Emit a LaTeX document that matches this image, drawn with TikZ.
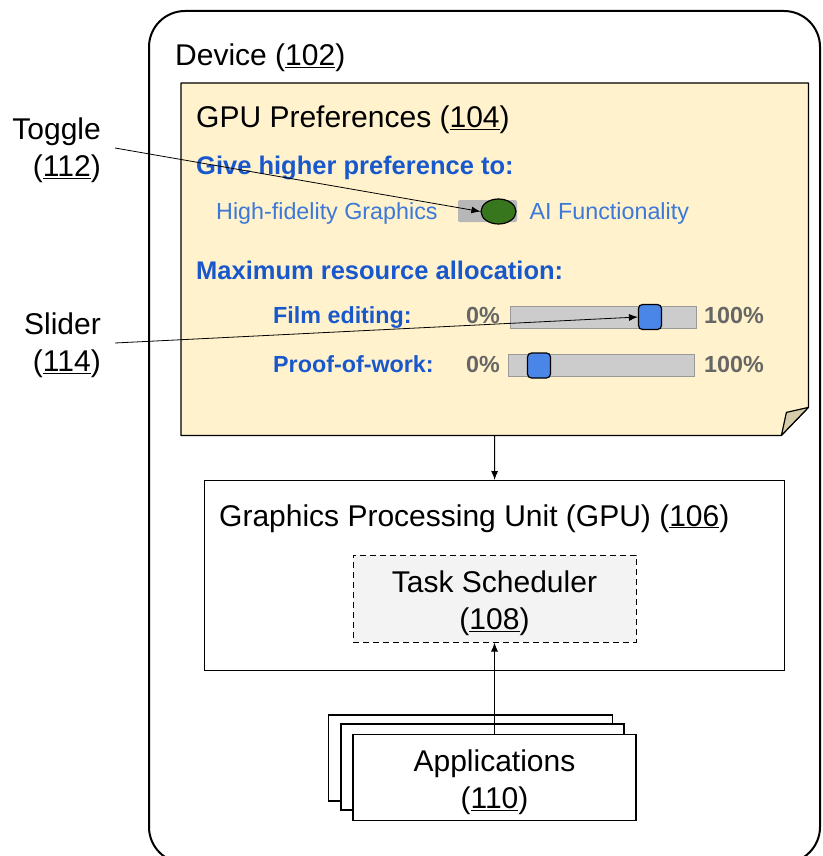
\documentclass[tikz,border=0pt]{standalone}
\usepackage{fontspec}
\setmainfont{Liberation Sans}
\usetikzlibrary{positioning, arrows.meta, shapes.geometric, calc}
\definecolor{noteyellow}{RGB}{255,242,204}
\definecolor{folddark}{RGB}{214,204,170}
\definecolor{prefblue}{RGB}{24,88,204}
\definecolor{optblue}{RGB}{60,120,216}
\definecolor{knobblue}{RGB}{74,134,232}
\definecolor{knobgreen}{RGB}{56,118,29}
\definecolor{trackgray}{RGB}{204,204,204}
\definecolor{togglegray}{RGB}{183,183,183}
\definecolor{pctgray}{RGB}{102,102,102}
\definecolor{schedgray}{RGB}{243,243,243}

\newcommand{\lblfont}{\fontsize{30}{37}\selectfont}
\newcommand{\headfont}{\fontsize{25.5}{30}\selectfont\bfseries}
\newcommand{\optfont}{\fontsize{23.3}{28}\selectfont}

\begin{document}
\begin{tikzpicture}[x=1pt, y=-1pt,
  box/.style={draw=black, line width=1.2pt, fill=white, inner sep=0},
  txt/.style={anchor=base west, inner sep=0, font=\lblfont},
  head/.style={anchor=base west, inner sep=0, font=\headfont, text=prefblue},
  opt/.style={anchor=base west, inner sep=0, font=\optfont, text=optblue},
  item/.style={anchor=base west, inner sep=0, font=\optfont\bfseries, text=prefblue},
  pct/.style={anchor=base west, inner sep=0, font=\optfont\bfseries, text=pctgray},
  slider/.style={draw=black!40, fill=trackgray, line width=0.8pt,
                 minimum width=186, minimum height=22, inner sep=0},
  knob/.style={draw=black, line width=1.2pt, fill=knobblue, rounded corners=4pt,
               minimum width=23, minimum height=25, inner sep=0},
  callout/.style={anchor=east, align=right, font=\lblfont, text height=63pt,
                  inner xsep=14, inner ysep=0},
  arr/.style={-{Latex[length=9pt, width=7pt]}, line width=1pt}
]
\useasboundingbox (0,0) rectangle (822,856);

% device frame
\node[draw=black, line width=2pt, rounded corners=36pt, minimum width=671,
      minimum height=852, anchor=north west, inner sep=0] (dev) at (148,10) {};
\node[txt] (devlbl) at (175,66) {Device (\underline{102})};

% preferences note with folded corner
\node[minimum width=627, minimum height=352, anchor=north west, inner sep=0] (pref) at (181,83) {};
\draw[line width=1.2pt, fill=noteyellow, line join=round]
  (pref.north west) -- (pref.north east) -- ($(pref.south east)+(0,-28)$)
  -- ($(pref.south east)+(-27,0)$) -- (pref.south west) -- cycle;
\draw[line width=1.2pt, fill=folddark, line join=round]
  ($(pref.south east)+(-27,0)$) -- ($(pref.south east)+(-22,-23)$)
  -- ($(pref.south east)+(0,-28)$) -- cycle;
\node[txt] (preflbl) at (196,128) {GPU Preferences (\underline{104})};

\node[head] (givelbl) at (196,174) {Give higher preference to:};
\node[opt] (hifi) at (216,219.5) {High-fidelity Graphics};
\node[fill=togglegray, rounded corners=2pt, minimum width=59, minimum height=22, inner sep=0] (track) at (487.5,211) {};
\node[ellipse, draw=black, line width=1.2pt, fill=knobgreen, minimum width=35,
      minimum height=25, inner sep=0] (knobT) at (498.5,211.5) {};
\node[opt] (ai) at (529.5,219.5) {AI Functionality};

\node[head] (maxlbl) at (196,279) {Maximum resource allocation:};
\node[item] (film) at (273,323.5) {Film editing:};
\node[pct] (filmlo) at (466,323.5) {0\%};
\node[slider] (trackF) at (603,317) {};
\node[knob] (knobF) at (650,317) {};
\node[pct] (filmhi) at (704,323.5) {100\%};

\node[item] (pow) at (273,372.5) {Proof-of-work:};
\node[pct] (powlo) at (466,372.5) {0\%};
\node[slider] (trackP) at (601.5,365.5) {};
\node[knob] (knobP) at (539,365.5) {};
\node[pct] (powhi) at (704,372.5) {100\%};

% callouts
\node[callout] (tgl) at (115,148) {Toggle\\(\underline{112})};
\node[callout] (sld) at (115,343) {Slider\\(\underline{114})};
\draw[arr, line width=0.8pt] (tgl.east) -- (knobT.west);
\draw[arr, line width=0.8pt] (sld.east) -- (knobF.west);

% gpu and scheduler
\node[box, minimum width=580, minimum height=190, anchor=north west] (gpu) at (204,480) {};
\node[txt] (gpulbl) at (219,526) {Graphics Processing Unit (GPU) (\underline{106})};
\node[draw=black, line width=1pt, dash pattern=on 6pt off 4pt, fill=schedgray,
      minimum width=283, minimum height=87, align=center, font=\lblfont,
      text height=69pt] (sched)
      at (494.5,598.5) {Task Scheduler\\(\underline{108})};
\draw[arr] (pref.south) -- (gpu.north);

% stacked applications
\node[box, minimum width=284, minimum height=86] (app3) at (470.5,758) {};
\node[box, minimum width=283, minimum height=86] (app2) at (482.5,767) {};
\node[box, minimum width=283, minimum height=86, align=center, font=\lblfont,
      text height=69pt] (apps)
      at (494.5,777.5) {Applications\\(\underline{110})};
\draw[arr] (apps.north) -- (sched.south);

\end{tikzpicture}
\end{document}
